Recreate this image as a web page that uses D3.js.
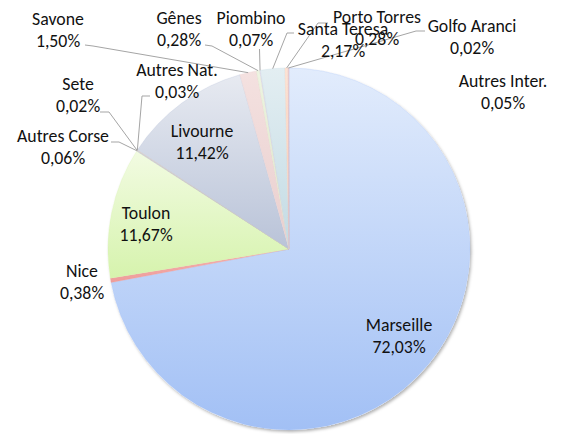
<!DOCTYPE html>
<html>
<head>
<meta charset="utf-8">
<script src="https://cdn.jsdelivr.net/npm/d3@7"></script>
<style>
  html, body { margin: 0; padding: 0; background: #fff; }
  svg { display: block; }
  text { font-family: Carlito, Lato, "Liberation Sans", sans-serif; font-size: 17.8px; fill: #111; }
</style>
</head>
<body>
<svg id="chart" width="563" height="434"></svg>
<script>
// ---- data ----
const categories = ["Marseille", "Nice", "Toulon", "Autres Corse", "Sete", "Autres Nat.", "Livourne",
  "Savone", "Gênes", "Piombino", "Santa Teresa", "Porto Torres", "Golfo Aranci", "Autres Inter."];
const values = [72.03, 0.38, 11.67, 0.06, 0.02, 0.03, 11.42, 1.50, 0.28, 0.07, 2.17, 0.28, 0.02, 0.05];

// ---- styles (top colour, bottom colour of each slice gradient) ----
const colorsTop = ["#e2ecfc", "#f6b4b2", "#f2fbe2", "#d9d0e6", "#d2ecf3", "#fde0c6", "#e7eaf1",
  "#f4e1e0", "#eef4e2", "#e8e2ef", "#e3eef2", "#fde3d5", "#dfe8f7", "#f3d4d3"];
const colorsBottom = ["#a2c0f5", "#ee9c9a", "#d6f3ad", "#b9a9cf", "#a9d9e7", "#fbc596", "#b9c3d8",
  "#e9cfce", "#dbe6c6", "#d3c9df", "#c3dbe4", "#f9c9b1", "#b9cdec", "#e7b5b3"];

// ---- layout ----
const W = 563, H = 434;
const cx = 289, cy = 249, R = 181;
const lineH = 22;
// label anchors: [centre x, baseline of first line]
const labelPos = {
  "Marseille": [399, 331], "Nice": [82, 277], "Toulon": [146, 219], "Autres Corse": [63, 142],
  "Sete": [78, 90], "Autres Nat.": [177, 76], "Livourne": [202, 137], "Savone": [58, 25],
  "Gênes": [179, 24], "Piombino": [251, 24], "Santa Teresa": [343, 35], "Porto Torres": [377, 23],
  "Golfo Aranci": [472, 32], "Autres Inter.": [503, 87]
};
// leader line start points (label side), ending at slice arc
const leaderPts = {
  "Savone": [[85, 45], [93, 46]],
  "Gênes": [[205, 45], [212, 46]],
  "Piombino": [[259.5, 49]],
  "Santa Teresa": [[294, 33], [287, 33]],
  "Porto Torres": [[328, 23], [318, 23]],
  "Golfo Aranci": [[425, 31], [416, 31]],
  "Autres Nat.": [[150, 96], [142, 96]],
  "Sete": [[100, 112], [109, 112]],
  "Autres Corse": [[111, 142], [119, 142]]
};

const svg = d3.select("#chart");
const defs = svg.append("defs");

const filt = defs.append("filter").attr("id", "shadow")
  .attr("x", "-10%").attr("y", "-10%").attr("width", "120%").attr("height", "120%");
filt.append("feDropShadow").attr("dx", 1.5).attr("dy", 2).attr("stdDeviation", 1.6)
  .attr("flood-color", "#000").attr("flood-opacity", 0.3);

categories.forEach((c, i) => {
  const g = defs.append("linearGradient").attr("id", "grad" + i)
    .attr("x1", 0).attr("y1", 0).attr("x2", 0).attr("y2", 1);
  g.append("stop").attr("offset", "0%").attr("stop-color", colorsTop[i]);
  g.append("stop").attr("offset", "100%").attr("stop-color", colorsBottom[i]);
});

const data = categories.map((c, i) => ({ name: c, value: values[i], idx: i }));
const pie = d3.pie().sort(null).value(d => d.value).startAngle(0).endAngle(2 * Math.PI);
const arcs = pie(data);
const arc = d3.arc().innerRadius(0).outerRadius(R);

const gPie = svg.append("g").attr("transform", `translate(${cx},${cy})`);
gPie.append("circle").attr("r", R).attr("fill", "#fff").attr("filter", "url(#shadow)");
gPie.selectAll("path.slice").data(arcs).join("path")
  .attr("class", "slice")
  .attr("d", arc)
  .attr("fill", d => `url(#grad${d.data.idx})`)
  .attr("stroke", d => colorsBottom[d.data.idx])
  .attr("stroke-width", 0.3);

// leader lines
const fmt = v => d3.format(".2f")(v).replace(".", ",") + "%";
arcs.forEach(a => {
  const pts = leaderPts[a.data.name];
  if (!pts) return;
  const mid = (a.startAngle + a.endAngle) / 2;
  const end = [cx + R * Math.sin(mid), cy - R * Math.cos(mid)];
  const all = pts.concat([end]);
  svg.append("path")
    .attr("d", d3.line()(all))
    .attr("fill", "none").attr("stroke", "#a5a5a5").attr("stroke-width", 1);
});

// labels
const gLab = svg.append("g");
arcs.forEach(a => {
  const p = labelPos[a.data.name];
  const t = gLab.append("text").attr("text-anchor", "middle");
  t.append("tspan").attr("x", p[0]).attr("y", p[1]).text(a.data.name);
  t.append("tspan").attr("x", p[0]).attr("y", p[1] + lineH).text(fmt(a.data.value));
});
</script>
</body>
</html>
